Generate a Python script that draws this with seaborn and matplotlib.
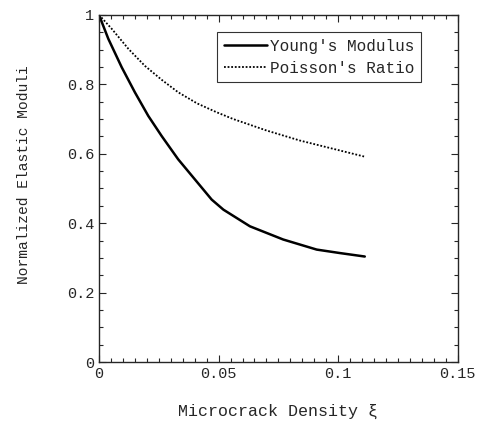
import pandas as pd
import matplotlib as mpl
mpl.use("Agg")
import matplotlib.pyplot as plt
from matplotlib.ticker import MultipleLocator
import seaborn as sns

# values
young_x = [0.0, 0.0039, 0.0095, 0.0150, 0.0206, 0.0262, 0.0331, 0.0401, 0.0471, 0.052, 0.0631, 0.077, 0.091, 0.1007, 0.1111]
young_y = [1.0, 0.931, 0.849, 0.777, 0.709, 0.651, 0.584, 0.526, 0.468, 0.439, 0.391, 0.353, 0.324, 0.314, 0.304]
poisson_x = [0.0, 0.0053, 0.0123, 0.0192, 0.0262, 0.0331, 0.0410, 0.0490, 0.0561, 0.070, 0.084, 0.098, 0.1108]
poisson_y = [1.0, 0.960, 0.902, 0.853, 0.813, 0.777, 0.745, 0.720, 0.700, 0.667, 0.638, 0.614, 0.592]

sns.set_style("ticks")
plt.rcParams['font.family'] = ['Liberation Mono', 'DejaVu Sans']

df = pd.concat([
    pd.DataFrame({"x": young_x, "y": young_y, "s": "Young's Modulus"}),
    pd.DataFrame({"x": poisson_x, "y": poisson_y, "s": "Poisson's Ratio"}),
])

fig = plt.figure(figsize=(4.84, 4.24), dpi=100)
ax = fig.add_axes([0.2045, 0.146, 0.7415, 0.819])
sns.lineplot(data=df, x="x", y="y", hue="s", style="s",
             palette=["black", "black"], dashes=[(None, None), (1, 1)],
             sort=False, ax=ax, legend=False)
ax.lines[0].set_linewidth(1.8)
ax.lines[1].set_linewidth(1.3)
ax.lines[0].set_linestyle("-")
ax.lines[1].set_linestyle((0, (1, 1)))

ax.set_xlim(0, 0.15)
ax.set_ylim(0, 1)
ax.set_xticks([0, 0.05, 0.1, 0.15])
ax.set_xticklabels(["0", "0.05", "0.1", "0.15"])
ax.set_yticks([0, 0.2, 0.4, 0.6, 0.8, 1])
ax.set_yticklabels(["0", "0.2", "0.4", "0.6", "0.8", "1"])
ax.xaxis.set_minor_locator(MultipleLocator(0.005))
ax.yaxis.set_minor_locator(MultipleLocator(0.05))
ax.tick_params(which="both", direction="in", top=True, right=True, labelsize=11, width=0.8)
ax.tick_params(which="major", length=5)
ax.tick_params(which="minor", length=3)
for sp in ax.spines.values():
    sp.set_linewidth(1.0)

ax.set_xlabel("Microcrack Density ξ", fontsize=12)
ax.xaxis.set_label_coords(0.5, -0.12)
ax.set_ylabel("Normalized Elastic Moduli", fontsize=10.5)
ax.yaxis.set_label_coords(-0.19, 0.54)

leg = ax.legend(ax.lines, ["Young's Modulus", "Poisson's Ratio"], loc="upper right",
                bbox_to_anchor=(0.897, 0.95), fontsize=11.5, frameon=True, fancybox=False,
                edgecolor="black", handlelength=2.7, handletextpad=0.2, borderpad=0.4,
                labelspacing=0.45, borderaxespad=0)
leg.get_frame().set_linewidth(0.8)

fig.savefig("out.png", dpi=100)
